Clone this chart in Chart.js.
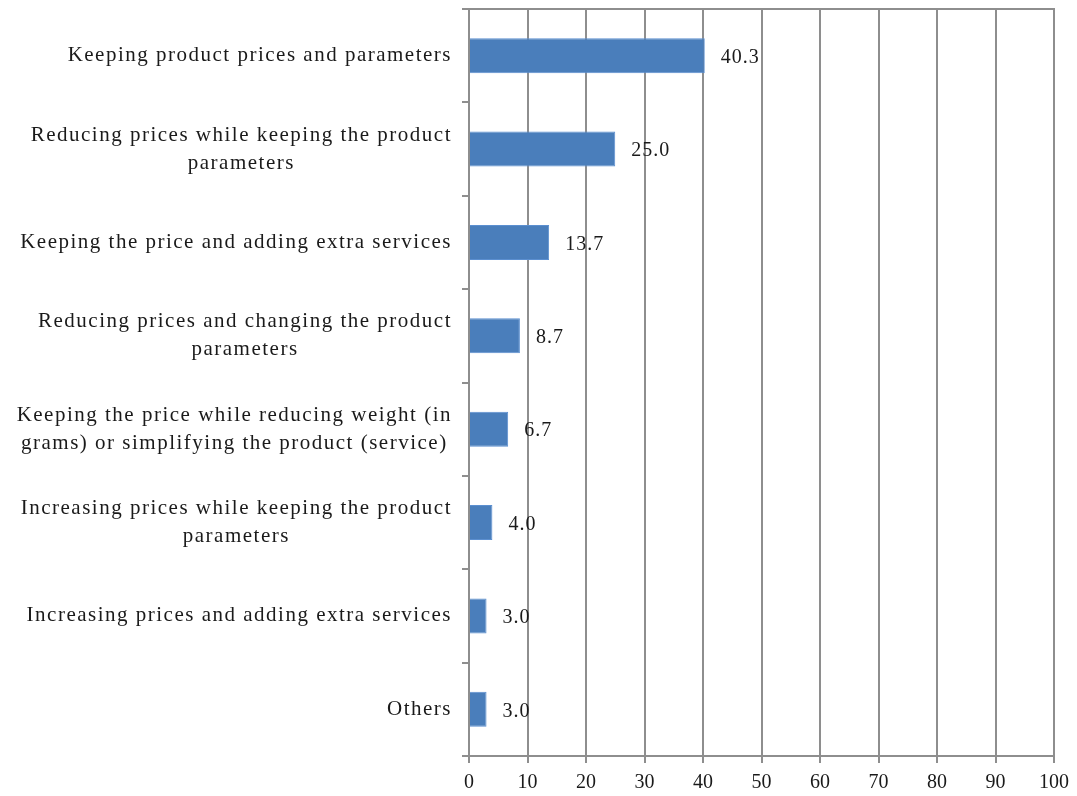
<!DOCTYPE html>
<html>
<head>
<meta charset="utf-8">
<script src="https://cdn.jsdelivr.net/npm/chart.js@4"></script>
<style>
  html, body { margin: 0; padding: 0; background: #fff; }
  #wrap { width: 1077px; height: 796px; }
</style>
</head>
<body>
<div id="wrap"><canvas id="strategyChart" width="1077" height="796"></canvas></div>
<script>
// Survey answers, top to bottom
const categories = [
    ['Keeping product prices and parameters'],
    ['Reducing prices while keeping the product', 'parameters'],
    ['Keeping the price and adding extra services'],
    ['Reducing prices and changing the product', 'parameters'],
    ['Keeping the price while reducing weight (in', 'grams) or simplifying the product (service)'],
    ['Increasing prices while keeping the product', 'parameters'],
    ['Increasing prices and adding extra services'],
    ['Others']
];
const shares = [40.3, 25.0, 13.7, 8.7, 6.7, 4.0, 3.0, 3.0];
const xTicks = [0, 10, 20, 30, 40, 50, 60, 70, 80, 90, 100];

const FONT = '"Liberation Serif", "Times New Roman", serif';
const TEXT = '#1a1a1a';
const GRID = '#8e8e8e';

// Category labels: each block right-aligned to the axis, lines centred within the block
const categoryLabels = {
    id: 'categoryLabels',
    afterDraw(chart) {
        const ctx = chart.ctx;
        const y = chart.scales.y;
        const right = y.right - 17;
        const lineH = 28;
        ctx.save();
        ctx.font = '21px ' + FONT;
        ctx.letterSpacing = '1.5px';
        ctx.fillStyle = TEXT;
        ctx.textAlign = 'center';
        ctx.textBaseline = 'middle';
        categories.forEach((lines, i) => {
            const maxW = Math.max(...lines.map(l => ctx.measureText(l).width));
            const cx = right - maxW / 2;
            const cy = y.getPixelForTick(i);
            const top = cy - (lines.length - 1) * lineH / 2;
            lines.forEach((l, k) => ctx.fillText(l, cx, top + k * lineH));
        });
        ctx.restore();
    }
};

// Value printed just past the end of each bar
const valueLabels = {
    id: 'valueLabels',
    afterDatasetsDraw(chart) {
        const ctx = chart.ctx;
        const meta = chart.getDatasetMeta(0);
        ctx.save();
        ctx.font = '20px ' + FONT;
        ctx.letterSpacing = '1px';
        ctx.fillStyle = TEXT;
        ctx.textAlign = 'left';
        ctx.textBaseline = 'middle';
        meta.data.forEach((bar, i) => {
            ctx.fillText(shares[i].toFixed(1), bar.x + 16, bar.y + 2);
        });
        ctx.restore();
    }
};

new Chart(document.getElementById('strategyChart'), {
    type: 'bar',
    data: {
        labels: categories,
        datasets: [{
            data: shares,
            backgroundColor: '#4a7ebb',
            borderColor: '#5b8fd0',
            borderWidth: 1,
            categoryPercentage: 0.375,
            barPercentage: 1
        }]
    },
    options: {
        indexAxis: 'y',
        responsive: false,
        animation: false,
        layout: { padding: { top: 9, right: 21, left: 0, bottom: 0 } },
        plugins: { legend: { display: false }, tooltip: { enabled: false } },
        scales: {
            x: {
                min: 0,
                max: 100,
                afterBuildTicks: (scale) => { scale.ticks = xTicks.map(v => ({ value: v })); },
                grid: { color: GRID, lineWidth: 2, tickLength: 7 },
                border: { color: GRID, width: 2 },
                ticks: { color: TEXT, font: { family: FONT, size: 20 }, padding: 8 },
                afterFit: (scale) => { scale.height = 40; }
            },
            top: {
                position: 'top',
                min: 0,
                max: 100,
                grid: { display: false },
                border: { color: GRID, width: 2 },
                ticks: { display: false },
                afterFit: (scale) => { scale.height = 0; }
            },
            y: {
                grid: { drawOnChartArea: false, color: GRID, lineWidth: 2, tickLength: 7, offset: true },
                border: { color: GRID, width: 2 },
                ticks: { display: false },
                afterFit: (scale) => { scale.width = 469; }
            }
        }
    },
    plugins: [categoryLabels, valueLabels]
});
</script>
</body>
</html>
